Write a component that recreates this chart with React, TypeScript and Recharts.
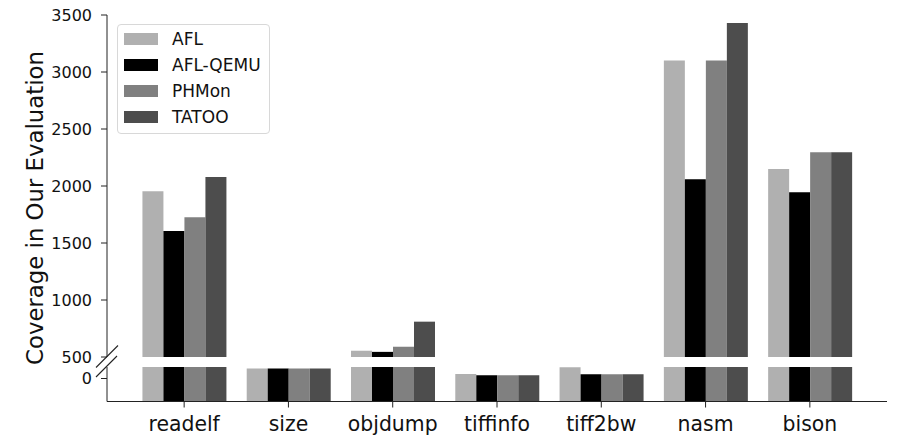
import { Bar, BarChart, Legend, XAxis, YAxis } from 'recharts'

const programs = ['readelf', 'size', 'objdump', 'tiffinfo', 'tiff2bw', 'nasm', 'bison']
const afl = [1955, 440, 555, 200, 490, 3100, 2150]
const aflQemu = [1605, 440, 545, 140, 190, 2060, 1945]
const phmon = [1725, 440, 590, 140, 190, 3100, 2295]
const tatoo = [2078, 440, 810, 140, 190, 3430, 2295]

const upperTicks = [500, 1000, 1500, 2000, 2500, 3000, 3500]
const lowerTicks = [0]
const upperDomain = [500, 3500]
const lowerDomain = [-1000, 500]

const series = [
  { key: 'afl', name: 'AFL', color: '#b0b0b0' },
  { key: 'aflQemu', name: 'AFL-QEMU', color: '#000000' },
  { key: 'phmon', name: 'PHMon', color: '#808080' },
  { key: 'tatoo', name: 'TATOO', color: '#4d4d4d' },
]

const data = programs.map((program, i) => ({
  program,
  afl: afl[i],
  aflQemu: aflQemu[i],
  phmon: phmon[i],
  tatoo: tatoo[i],
}))

const FONT = '"DejaVu Sans", sans-serif'
const W = 897
const H = 436
const AXIS = '#222'

function YLabel() {
  return (
    <text
      x={43}
      y={208}
      transform="rotate(-90 43 208)"
      textAnchor="middle"
      fontFamily={FONT}
      fontSize={22.8}
      fill="#111"
    >
      Coverage in Our Evaluation
    </text>
  )
}

function LegendBox() {
  return (
    <div
      style={{
        width: 153,
        height: 110,
        boxSizing: 'border-box',
        border: '1px solid #d8d8d8',
        borderRadius: 4,
        background: 'rgba(255,255,255,0.8)',
        position: 'relative',
        fontFamily: FONT,
        fontSize: 17,
        color: '#111',
      }}
    >
      {series.map((s, i) => (
        <div
          key={s.key}
          style={{
            position: 'absolute',
            left: 6,
            top: 8 + i * 26,
            height: 12,
            display: 'flex',
            alignItems: 'center',
            whiteSpace: 'nowrap',
          }}
        >
          <span style={{ display: 'inline-block', width: 34, height: 12, background: s.color }} />
          <span style={{ marginLeft: 14, lineHeight: '12px' }}>{s.name}</span>
        </div>
      ))}
    </div>
  )
}

export default function App() {
  const tickStyle = { fontSize: 16, fill: '#111', fontFamily: FONT }
  return (
    <div style={{ position: 'absolute', left: 0, top: 0, width: W, height: H, background: '#fff' }}>
      {/* upper panel: 500 - 3500 */}
      <div style={{ position: 'absolute', left: 0, top: 0 }}>
        <BarChart
          width={W}
          height={H}
          data={data}
          margin={{ top: 15, right: 10, bottom: 79, left: 0 }}
          barCategoryGap="10%"
          barGap={0}
        >
          <XAxis dataKey="program" hide padding={{ left: 25, right: 25 }} />
          <YAxis
            width={107}
            domain={upperDomain}
            ticks={upperTicks}
            allowDataOverflow
            interval={0}
            tickSize={6}
            tickMargin={9}
            tick={tickStyle}
            axisLine={{ stroke: AXIS }}
            tickLine={{ stroke: AXIS }}
            label={<YLabel />}
          />
          <Legend
            layout="horizontal"
            verticalAlign="middle"
            align="center"
            content={<LegendBox />}
            wrapperStyle={{ position: 'absolute', left: 117, top: 24, width: 153, height: 110 }}
          />
          {series.map((s) => (
            <Bar key={s.key} dataKey={s.key} name={s.name} fill={s.color} isAnimationActive={false} />
          ))}
        </BarChart>
      </div>

      {/* lower panel: around 0 */}
      <div style={{ position: 'absolute', left: 0, top: 0 }}>
        <BarChart
          width={W}
          height={H}
          data={data}
          margin={{ top: 367, right: 10, bottom: 0, left: 0 }}
          barCategoryGap="10%"
          barGap={0}
        >
          <XAxis
            dataKey="program"
            height={34.5}
            padding={{ left: 25, right: 25 }}
            tickSize={6}
            tickMargin={9}
            interval={0}
            tick={{ fontSize: 20.4, fill: '#111', fontFamily: FONT }}
            axisLine={{ stroke: AXIS }}
            tickLine={{ stroke: AXIS }}
          />
          <YAxis
            width={107}
            domain={lowerDomain}
            ticks={lowerTicks}
            allowDataOverflow
            tickSize={6}
            tickMargin={9}
            tick={tickStyle}
            axisLine={{ stroke: AXIS }}
            tickLine={{ stroke: AXIS }}
          />
          {series.map((s) => (
            <Bar
              key={s.key}
              dataKey={(d: Record<string, number>) => [lowerDomain[0], d[s.key]]}
              name={s.name}
              fill={s.color}
              isAnimationActive={false}
            />
          ))}
        </BarChart>
      </div>

      {/* axis break marks */}
      <svg width={W} height={H} style={{ position: 'absolute', left: 0, top: 0, pointerEvents: 'none' }}>
        <line x1={96} y1={367.5} x2={118} y2={345.5} stroke={AXIS} strokeWidth={1.1} />
        <line x1={96} y1={377} x2={117} y2={356} stroke={AXIS} strokeWidth={1.1} />
      </svg>
    </div>
  )
}
